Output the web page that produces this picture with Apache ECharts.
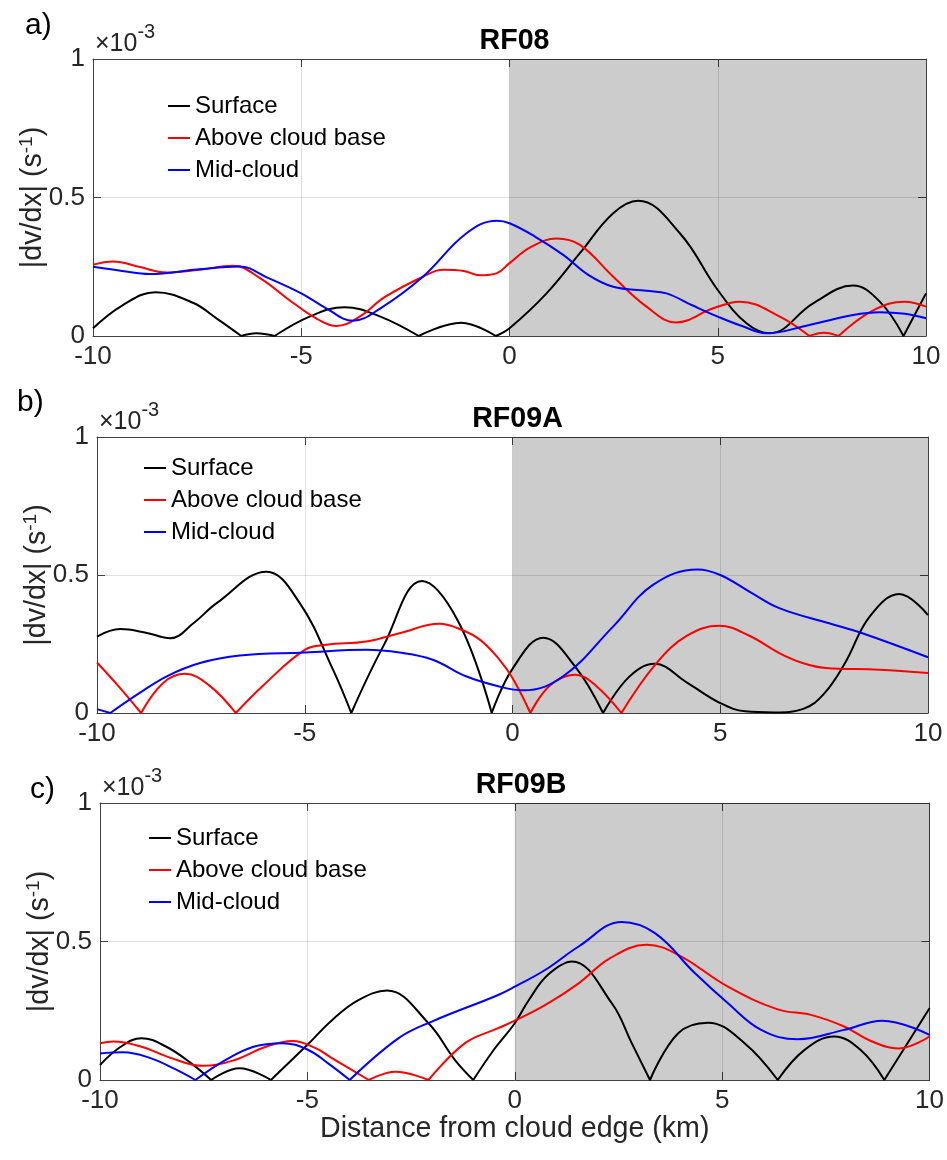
<!DOCTYPE html>
<html>
<head>
<meta charset="utf-8">
<script src="https://cdn.jsdelivr.net/npm/echarts@6/dist/echarts.min.js"></script>
<style>
html, body { margin: 0; padding: 0; background: #fff; }
#main { width: 947px; height: 1160px; }
</style>
</head>
<body>
<div id="main"></div>
<script>
// values in units of 1e-3 s^-1, x in km from cloud edge
var panelTitles = ['RF08', 'RF09A', 'RF09B'];
var panelLetters = ['a)', 'b)', 'c)'];
var seriesNames = ['Surface', 'Above cloud base', 'Mid-cloud'];
var xTicks = [-10, -5, 0, 5, 10];
var yTicks = [0, 0.5, 1];

var rf08Surface = [[-10,0.028],[-9.3,0.11],[-8.5,0.158],[-7.6,0.12],[-7.0,0.06],[-6.44,0],[-6.08,0.01],[-5.64,0],[-4.8,0.07],[-3.96,0.104],[-3.1,0.07],[-2.18,0],[-1.16,0.048],[-0.33,0],[0,0.028],[0.89,0.154],[1.69,0.299],[2.49,0.443],[3.09,0.488],[4.09,0.371],[5,0.166],[5.69,0.046],[6.25,0.01],[7.29,0.118],[8.25,0.182],[8.89,0.124],[9.46,0],[10,0.154]];
var rf08Above = [[-10,0.257],[-9.52,0.269],[-8.9,0.25],[-8.24,0.229],[-7.4,0.24],[-6.64,0.254],[-6.0,0.21],[-5.2,0.12],[-4.6,0.06],[-4.16,0.036],[-3.6,0.07],[-3.0,0.14],[-2.08,0.214],[-1.6,0.239],[-1.1,0.235],[-0.72,0.219],[-0.3,0.227],[0,0.263],[0.5,0.32],[1.13,0.352],[1.69,0.329],[2.49,0.214],[3.29,0.106],[4.0,0.049],[4.89,0.1],[5.53,0.124],[6.49,0.07],[7.2,0],[7.55,0.012],[7.9,0],[8.7,0.09],[9.49,0.124],[10,0.106]];
var rf08Mid = [[-10,0.25],[-9.3,0.235],[-8.64,0.224],[-7.5,0.24],[-6.48,0.251],[-5.8,0.21],[-5,0.154],[-4.4,0.1],[-3.76,0.055],[-3.1,0.1],[-2.08,0.214],[-1.04,0.37],[-0.3,0.416],[0,0.407],[0.6,0.36],[1.29,0.293],[1.9,0.22],[2.49,0.178],[3.29,0.163],[3.77,0.154],[4.4,0.11],[5,0.07],[5.6,0.035],[6.17,0.01],[7.2,0.04],[8.25,0.076],[8.89,0.086],[9.5,0.08],[10,0.064]];

var rf09aSurface = [[-10,0.277],[-9.44,0.304],[-8.8,0.29],[-8.24,0.271],[-7.68,0.325],[-7.12,0.398],[-5.92,0.512],[-5.12,0.398],[-4.32,0.157],[-3.88,0],[-3.1,0.245],[-2.18,0.478],[-1.3,0.33],[-0.5,0],[0,0.16],[0.74,0.273],[1.5,0.17],[2.18,0],[2.8,0.13],[3.42,0.178],[4.2,0.11],[5.0,0.036],[5.6,0.006],[6.3,0.002],[7.0,0.015],[7.5,0.07],[8.0,0.18],[8.6,0.35],[9.31,0.431],[10,0.355]];
var rf09aAbove = [[-10,0.183],[-9.5,0.1],[-8.94,0],[-8.4,0.11],[-7.88,0.142],[-7.3,0.1],[-6.66,0],[-6.0,0.1],[-5.0,0.229],[-4.48,0.247],[-3.52,0.259],[-2.72,0.289],[-1.76,0.323],[-1.2,0.3],[-0.78,0.265],[-0.35,0.2],[0,0.127],[0.43,0],[0.9,0.1],[1.5,0.139],[2.0,0.1],[2.62,0],[3.46,0.18],[4.2,0.28],[4.98,0.316],[5.7,0.28],[6.42,0.217],[7.0,0.18],[7.54,0.163],[8.82,0.157],[10,0.145]];
var rf09aMid = [[-10,0.014],[-9.68,0],[-9.0,0.07],[-8.32,0.133],[-7.52,0.181],[-6.56,0.208],[-5,0.219],[-3.52,0.229],[-2.72,0.219],[-1.92,0.193],[-1.12,0.133],[-0.32,0.096],[0.26,0.082],[1.22,0.133],[2.42,0.313],[3.38,0.464],[4.46,0.52],[5,0.5],[5.7,0.44],[6.42,0.38],[7.62,0.325],[8.42,0.289],[10,0.202]];

var rf09bSurface = [[-10,0.054],[-9.5,0.12],[-9.0,0.151],[-8.4,0.12],[-7.8,0.06],[-7.32,0],[-6.64,0.042],[-5.88,0],[-5.0,0.127],[-4.4,0.217],[-3.76,0.289],[-3.08,0.323],[-2.08,0.205],[-1.44,0.072],[-1.0,0],[-0.5,0.11],[0,0.205],[0.34,0.289],[0.8,0.38],[1.38,0.428],[2.34,0.277],[2.82,0.133],[3.26,0],[3.94,0.169],[4.66,0.207],[5.54,0.133],[6.34,0],[6.98,0.108],[7.7,0.157],[8.34,0.108],[8.91,0],[10,0.259]];
var rf09bAbove = [[-10,0.133],[-9.68,0.139],[-9.0,0.12],[-8.3,0.08],[-7.52,0.051],[-6.8,0.07],[-6.0,0.12],[-5.36,0.141],[-4.8,0.115],[-4.4,0.078],[-3.52,0],[-2.88,0.03],[-2.08,0],[-1.2,0.133],[-0.4,0.187],[0,0.214],[0.74,0.271],[1.54,0.349],[2.3,0.44],[3.18,0.488],[3.94,0.452],[5.14,0.337],[6.34,0.255],[7.14,0.235],[7.94,0.193],[8.6,0.14],[9.26,0.114],[10,0.157]];
var rf09bMid = [[-10,0.096],[-9.44,0.1],[-8.8,0.08],[-8.2,0.04],[-7.7,0],[-7.0,0.07],[-6.3,0.12],[-5.6,0.133],[-5.0,0.11],[-4.5,0.06],[-3.98,0],[-2.8,0.151],[-2.0,0.211],[-0.4,0.307],[0,0.337],[0.74,0.398],[1.54,0.482],[2.58,0.57],[3.38,0.53],[4.34,0.386],[5.14,0.277],[5.94,0.181],[6.82,0.147],[7.94,0.181],[8.86,0.214],[10,0.163]];

var panelData = [
	[rf08Surface, rf08Above, rf08Mid],
	[rf09aSurface, rf09aAbove, rf09aMid],
	[rf09bSurface, rf09bAbove, rf09bMid]
];
var lineColors = ['#000000', '#ff0000', '#0000ff'];

var chart = echarts.init(document.getElementById('main'), null, {renderer: 'canvas'});
var FONT = "'Liberation Sans', Arial, sans-serif";
var TXT = '#262626';
var AX = '#404040';

// plot boxes
var grids = [
	{left: 93, top: 59, width: 833, height: 277},
	{left: 97, top: 437, width: 831, height: 276},
	{left: 100, top: 803, width: 832, height: 277}
];

// |dv/dx| has sharp V at zeros: break line there so smoothing keeps the cusp
function withCusps(pts) {
	var out = [];
	for (var i = 0; i < pts.length; i++) {
		out.push(pts[i]);
		if (pts[i][1] === 0 && i > 0 && i < pts.length - 1) {
			out.push([pts[i][0], '-']);
			out.push(pts[i]);
		}
	}
	return out;
}

var xAxes = [], yAxes = [], series = [], titles = [], legends = [];
var legendPos = [[168, 94], [144, 456], [149, 826]];
var letterPos = [[20, 6], [12, 383], [25, 770]];

grids.forEach(function (g, i) {
	xAxes.push({
		gridIndex: i, type: 'value', min: -10, max: 10, interval: 5,
		axisLine: {show: true, onZero: false, lineStyle: {color: AX, width: 1}},
		axisTick: {show: true, inside: true, length: 8, lineStyle: {color: AX}},
		axisLabel: {color: TXT, fontSize: 26, fontFamily: FONT, margin: 8,
			formatter: function (v) { return xTicks.indexOf(v) >= 0 ? String(v) : ''; }},
		splitLine: {show: true, lineStyle: {color: 'rgba(38,38,38,0.15)', width: 1}},
		name: i === 2 ? 'Distance from cloud edge (km)' : '',
		nameLocation: 'middle', nameGap: 34, nameMoveOverlap: false,
		nameTextStyle: {color: TXT, fontSize: 28.6, fontFamily: FONT, lineHeight: 30}
	});
	yAxes.push({
		gridIndex: i, type: 'value', min: 0, max: 1, interval: 0.5,
		axisLine: {show: true, onZero: false, lineStyle: {color: AX, width: 1}},
		axisTick: {show: true, inside: true, length: 8, lineStyle: {color: AX}},
		axisLabel: {color: TXT, fontSize: 26, fontFamily: FONT, margin: 8,
			formatter: function (v) { return yTicks.indexOf(v) >= 0 ? String(v) : ''; }},
		splitLine: {show: true, lineStyle: {color: 'rgba(38,38,38,0.15)', width: 1}},
		name: '|dv/dx| (s{sup|-1})',
		nameLocation: 'middle', nameGap: 44, nameRotate: 90, nameMoveOverlap: false,
		nameTextStyle: {color: TXT, fontSize: 28.6, fontFamily: FONT, lineHeight: 32,
			rich: {sup: {fontSize: 19, fontFamily: FONT, color: TXT, verticalAlign: 'top', lineHeight: 19}}}
	});

	panelData[i].forEach(function (pts, k) {
		var s = {
			name: seriesNames[k], type: 'line', xAxisIndex: i, yAxisIndex: i,
			data: withCusps(pts), smooth: 0.4, showSymbol: false, connectNulls: false,
			lineStyle: {color: lineColors[k], width: 2}, itemStyle: {color: lineColors[k]},
			silent: true, animation: false, z: 3
		};
		if (k === 0) {
			s.markArea = {silent: true, z: 1, itemStyle: {color: 'rgba(0,0,0,0.2)'},
				data: [[{xAxis: 0}, {xAxis: 10}]]};
		}
		series.push(s);
	});

	titles.push({text: panelLetters[i], left: letterPos[i][0], top: letterPos[i][1],
		textStyle: {fontSize: 30, fontWeight: 'normal', color: '#000', fontFamily: FONT}});
	titles.push({text: panelTitles[i], left: g.left + g.width / 2, top: g.top - 37, textAlign: 'center',
		textStyle: {fontSize: 28.6, fontWeight: 'bold', color: '#000', fontFamily: FONT}});
	titles.push({text: '×10{s|-3}', left: g.left + 2, top: g.top - 37, padding: 0,
		textStyle: {fontSize: 25, fontWeight: 'normal', color: TXT, fontFamily: FONT, lineHeight: 44,
			rich: {s: {fontSize: 20, fontFamily: FONT, color: TXT, verticalAlign: 'top', lineHeight: 20}}}});

	legends.push({
		orient: 'vertical', left: legendPos[i][0], top: legendPos[i][1], padding: 0,
		data: seriesNames, icon: 'rect', itemWidth: 22, itemHeight: 2, itemGap: 8,
		selectedMode: false,
		textStyle: {fontSize: 24, color: '#000', fontFamily: FONT, lineHeight: 22}
	});
});

// mirrored box axes (top / right) with inward ticks, like a closed axes box
grids.forEach(function (g, i) {
	xAxes.push({gridIndex: i, type: 'value', position: 'top', min: -10, max: 10, interval: 5,
		axisLine: {show: true, onZero: false, lineStyle: {color: AX, width: 1}},
		axisTick: {show: true, inside: true, length: 8, lineStyle: {color: AX}},
		axisLabel: {show: false}, splitLine: {show: false}});
	yAxes.push({gridIndex: i, type: 'value', position: 'right', min: 0, max: 1, interval: 0.5,
		axisLine: {show: true, onZero: false, lineStyle: {color: AX, width: 1}},
		axisTick: {show: true, inside: true, length: 8, lineStyle: {color: AX}},
		axisLabel: {show: false}, splitLine: {show: false}});
});

chart.setOption({
	backgroundColor: '#ffffff',
	animation: false,
	title: titles,
	legend: legends,
	grid: grids,
	xAxis: xAxes,
	yAxis: yAxes,
	series: series
});
</script>
</body>
</html>
